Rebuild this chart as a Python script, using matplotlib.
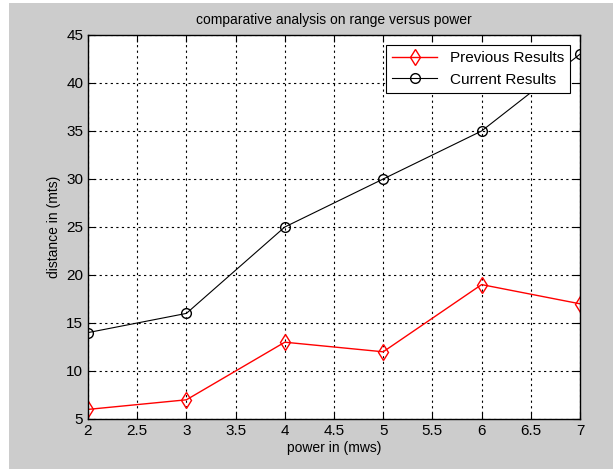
import matplotlib
matplotlib.use("Agg")
import matplotlib.pyplot as plt
from matplotlib.patches import Rectangle

power = [2, 3, 4, 5, 6, 7]
previous = [6, 7, 13, 12, 19, 17]
current = [14, 16, 25, 30, 35, 43]
xticks = [2, 2.5, 3, 3.5, 4, 4.5, 5, 5.5, 6, 6.5, 7]
yticks = [5, 10, 15, 20, 25, 30, 35, 40, 45]

plt.rcParams['font.family'] = ['Liberation Sans', 'DejaVu Sans']

W, H = 613, 472
fig = plt.figure(figsize=(W/100, H/100), dpi=100, facecolor='white')
fig.patches.append(Rectangle((9/W, 3/H), 1 - 9/W, 1 - 6/H, transform=fig.transFigure,
                             facecolor='#cccccc', edgecolor='none', zorder=-10))

ax = fig.add_axes([88/W, 53/H, (580-88)/W, (419-35)/H])
ax.set_facecolor('white')
ax.plot(power, previous, color='red', marker='d', markersize=8, markerfacecolor='none',
        markeredgecolor='red', linewidth=1, label='Previous Results')
ax.plot(power, current, color='black', marker='o', markersize=7, markerfacecolor='none',
        markeredgecolor='black', linewidth=0.8, label='Current Results')
ax.set_xlim(2, 7)
ax.set_ylim(5, 45)
ax.set_xticks(xticks)
ax.set_xticklabels([f'{t:g}' for t in xticks])
ax.set_yticks(yticks)
ax.grid(True, color='black', linestyle=(0, (2, 3)), linewidth=0.8)
ax.tick_params(direction='in', top=True, right=True, labelsize=11, length=5)
for s in ax.spines.values():
    s.set_linewidth(1)
ax.set_title('comparative analysis on range versus power', fontsize=10, pad=8)
ax.set_xlabel('power in (mws)', fontsize=10, labelpad=2)
ax.set_ylabel('distance in (mts)', fontsize=10, labelpad=4)
leg = ax.legend(loc='upper right', fontsize=11, fancybox=False, framealpha=1,
                edgecolor='black', borderaxespad=0.65, handlelength=3)
leg.get_frame().set_linewidth(0.8)
fig.savefig('out.png', dpi=100, facecolor='white')
